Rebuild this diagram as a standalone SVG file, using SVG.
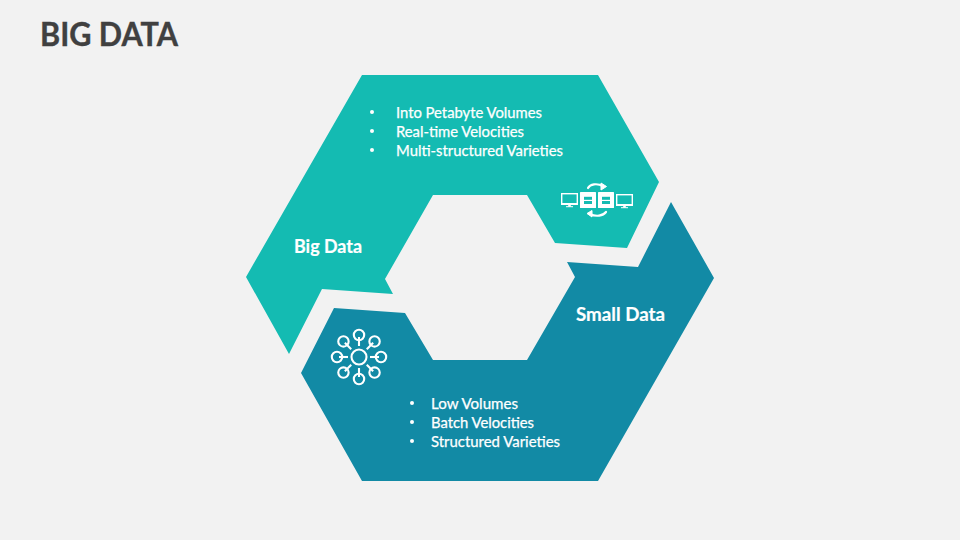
<svg xmlns="http://www.w3.org/2000/svg" width="960" height="540" viewBox="0 0 960 540">
<style>
text{font-family:Lato,"Open Sans","Liberation Sans",sans-serif;fill:#fff}
.t{font-size:14.7px;font-weight:400;stroke:#fff;stroke-width:.25px}
.h{font-size:18.7px;font-weight:700;stroke:#fff;stroke-width:.2px}
.l{fill:none;stroke:#fff;stroke-width:2.1}
.f{fill:#fff}
.a{fill:none;stroke:#fff;stroke-width:2.2;stroke-linecap:round}
</style>
<defs>
<g id="mon"><rect x="0.7" y="0.7" width="15.6" height="10.6" fill="none" stroke="#fff" stroke-width="1.4"/><rect x="0" y="10" width="17" height="2" class="f"/><rect x="7.2" y="12" width="2.6" height="1.6" class="f"/><rect x="5" y="13.2" width="7" height="1" class="f"/></g>
<g id="srv"><rect width="16" height="16" rx="0.5" class="f"/><rect x="4" y="4.800" width="8" height="3" fill="#14bbb2"/><rect x="4" y="9" width="8" height="3" fill="#14bbb2"/></g>
<g id="spoke"><circle cx="0" cy="-22" r="5.200" class="l"/><path d="M0-20V-11" class="l"/></g>
</defs>
<rect width="960" height="540" fill="#f2f2f2"/>
<text x="40" y="46" style="font-size:32px;font-weight:700;fill:#404040;stroke:#404040;stroke-width:.4px" textLength="138" lengthAdjust="spacingAndGlyphs">BIG DATA</text>
<g id="big-data">
<polygon points="362,75 598,75 659,182 627,248 555,243 527,195 433,195 385,279 393,294 322,289 289,354 246,277" fill="#14bbb2"/>
<text class="h" x="294" y="253" textLength="68" lengthAdjust="spacingAndGlyphs">Big Data</text>
<circle cx="372" cy="112" r="2" class="f"/><text class="t" x="396" y="117.500" textLength="146" lengthAdjust="spacingAndGlyphs">Into Petabyte Volumes</text>
<circle cx="372" cy="131" r="2" class="f"/><text class="t" x="396" y="136.500" textLength="128" lengthAdjust="spacingAndGlyphs">Real-time Velocities</text>
<circle cx="372" cy="150" r="2" class="f"/><text class="t" x="396" y="155.500" textLength="167" lengthAdjust="spacingAndGlyphs">Multi-structured Varieties</text>
<g id="icon-servers">
<use href="#mon" x="561" y="193"/><use href="#mon" x="616" y="194"/>
<use href="#srv" x="580" y="192"/><use href="#srv" x="598" y="192"/>
<path d="M588 188C590 184 597 183 603 186" class="a"/><path d="M601 183L606.500 186.500L601 190Z" class="f" stroke="#fff"/>
<path d="M606 212C603 216 596 217 590 214" class="a"/><path d="M592 210.500L587 213.500L592 217Z" class="f" stroke="#fff"/>
</g>
</g>
<g id="small-data">
<polygon points="334,308 405,313 433,360 527,360 575,277 567,262 638,267 671,202 714,278 598,481 362,481 301,373" fill="#128aa5"/>
<text class="h" x="576" y="321" textLength="89" lengthAdjust="spacingAndGlyphs">Small Data</text>
<circle cx="412" cy="403" r="2" class="f"/><text class="t" x="431" y="408.500" textLength="87" lengthAdjust="spacingAndGlyphs">Low Volumes</text>
<circle cx="412" cy="422" r="2" class="f"/><text class="t" x="431" y="427.500" textLength="103" lengthAdjust="spacingAndGlyphs">Batch Velocities</text>
<circle cx="412" cy="441" r="2" class="f"/><text class="t" x="431" y="446.500" textLength="129" lengthAdjust="spacingAndGlyphs">Structured Varieties</text>
<g id="icon-hub" transform="translate(359 357)">
<circle r="7.500" class="l"/>
<use href="#spoke"/><use href="#spoke" transform="rotate(45)"/><use href="#spoke" transform="rotate(90)"/><use href="#spoke" transform="rotate(135)"/><use href="#spoke" transform="rotate(180)"/><use href="#spoke" transform="rotate(225)"/><use href="#spoke" transform="rotate(270)"/><use href="#spoke" transform="rotate(315)"/>
</g>
</g>
<g id="connectors"></g>
</svg>
